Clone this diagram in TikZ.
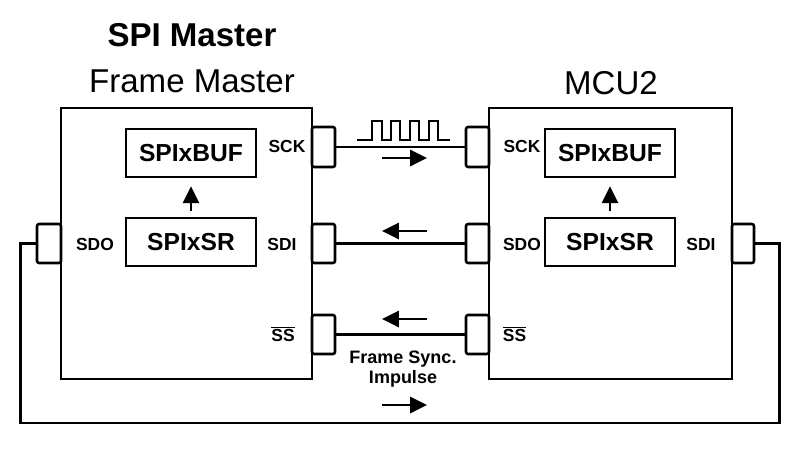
\documentclass[tikz,border=0pt]{standalone}
\usepackage{fontspec}
\setmainfont{Liberation Sans}
\usetikzlibrary{arrows.meta,fit,calc}
\begin{document}
\begin{tikzpicture}[x=0.025cm,y=-0.025cm,line width=1.8pt,
  blk/.style={draw,inner sep=0pt},
  port/.style={draw,inner sep=0pt,rounded corners=1.5pt},
  lbl/.style={inner sep=0pt,font=\bfseries\fontsize{12.4}{14}\selectfont},
  reg/.style={inner sep=0pt,font=\bfseries\fontsize{17.5}{20}\selectfont},
  title/.style={inner sep=0pt,font=\fontsize{23.5}{27}\selectfont},
  sig/.style={-{Triangle[length=12pt,width=11.5pt]}},
  note/.style={inner sep=0pt,anchor=base,font=\bfseries\fontsize{12.8}{15}\selectfont}]
\useasboundingbox (0,0) rectangle (800,449);

% titles
\node[title,font=\bfseries\fontsize{23.5}{27}\selectfont] (t1) at (192,35) {SPI Master};
\node[title] (t2) at (192,81) {Frame Master};
\node[title] (t3) at (611,83) {MCU2};

% main blocks
\node[blk,fit={(61,108) (312,379)}] (M) {};
\node[blk,fit={(489,108) (732,379)}] (S) {};

% registers
\node[blk,fit={(126,129) (256,177)}] (Mbuf) {};
\node[reg] at (Mbuf) {SPIxBUF};
\node[blk,fit={(126,218) (256,266)}] (Msr) {};
\node[reg] at (Msr) {SPIxSR};
\node[blk,fit={(545,129) (675,177)}] (Sbuf) {};
\node[reg] at (Sbuf) {SPIxBUF};
\node[blk,fit={(545,218) (675,266)}] (Ssr) {};
\node[reg] at (Ssr) {SPIxSR};

\draw[sig] ($(Msr.north)+(0,-6)$) coordinate (ma) -- ($(Mbuf.south)+(0,8)$) coordinate (mb);
\draw[sig] ($(Ssr.north)+(0,-6)$) coordinate (sa) -- ($(Sbuf.south)+(0,8)$) coordinate (sb);

% ports
\node[port,fit={(312,127) (335,167)}] (Msck) {};
\node[port,fit={(312,224) (335,263)}] (Msdi) {};
\node[port,fit={(312,315) (335,354)}] (Mss) {};
\node[port,fit={(37,224) (61,263)}] (Msdo) {};
\node[port,fit={(466,127) (489,167)}] (Ssck) {};
\node[port,fit={(466,224) (489,263)}] (Ssdo) {};
\node[port,fit={(466,315) (489,354)}] (Sss) {};
\node[port,fit={(732,224) (754,263)}] (Ssdi) {};

% port labels
\node[lbl] (l1) at (287,146) {SCK};
\node[lbl] (l2) at (282,244) {SDI};
\node[lbl] (l3) at (95,244) {SDO};
\node[lbl,anchor=base] (l4) at (283,341) {$\overline{\hbox{SS}}$};
\node[lbl] (l5) at (522,146) {SCK};
\node[lbl] (l6) at (522,244) {SDO};
\node[lbl] (l7) at (701,244) {SDI};
\node[lbl,anchor=base] (l8) at (514.5,341) {$\overline{\hbox{SS}}$};

% connections
\draw (Msck.east) -- (Ssck.west);
\draw (Msdi.east) -- (Ssdo.west);
\draw (Mss.east) -- (Sss.west);
\coordinate (c1) at ($(Ssdi.east)+(24,0)$);
\coordinate (c2) at (c1 |- 0,423);
\coordinate (c4) at ($(Msdo.west)+(-15,0)$);
\coordinate (c3) at (c4 |- 0,423);
\draw[line join=miter] (Ssdi.east) -- (c1) -- (c2) -- (c3) -- (c4) -- (Msdo.west);

% clock waveform
\draw[line join=miter] (357,140) -- (372,140) -- (372,121) -- (382,121) -- (382,140)
  -- (391,140) -- (391,121) -- (400,121) -- (400,140)
  -- (410,140) -- (410,121) -- (419,121) -- (419,140)
  -- (429,140) -- (429,121) -- (438,121) -- (438,140) -- (450,140);

% direction arrows
\draw[sig] (382,158) -- (427,158);
\draw[sig] (427,231) -- (382,231);
\draw[sig] (427,319) -- (382,319);
\draw[sig] (382,405) -- (427,405);

\node[note] (n1) at (403,363) {Frame Sync.};
\node[note] (n2) at (403,383) {Impulse};
\end{tikzpicture}
\end{document}
